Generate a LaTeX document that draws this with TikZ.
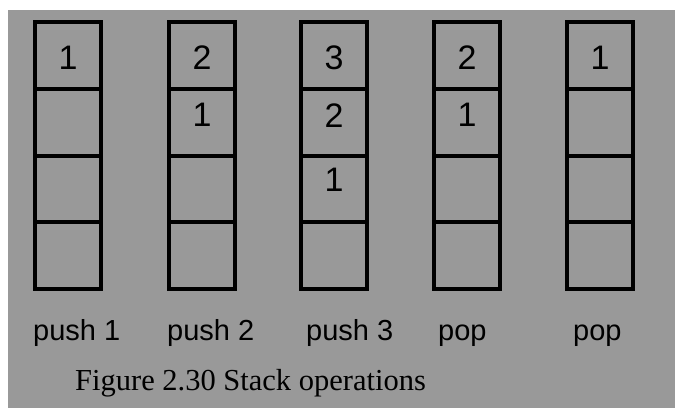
\documentclass[tikz,border=0pt]{standalone}
\usepackage{fontspec}
\setmainfont{Liberation Serif}
\newfontfamily\labelfont{Liberation Sans}
\usetikzlibrary{positioning}
\definecolor{panelgray}{RGB}{153,153,153}
\tikzset{
    % one slot of a stack
    cell/.style={
           rectangle,
           draw=black, line width=4pt,
           minimum width=66pt,
           minimum height=66.75pt,
           inner sep=0pt, outer sep=0pt},
    % value kept in a slot
    num/.style={
           font=\labelfont\fontsize{34}{34}\selectfont,
           inner sep=0pt},
    % name of the operation under a stack
    oper/.style={
           font=\labelfont\fontsize{29}{29}\selectfont,
           inner sep=0pt,
           anchor=base west}
}

\begin{document}
\begin{tikzpicture}[x=1pt, y=-1pt, node distance=0pt]
	%
	% fond
	%
	\fill[white] (0,0) rectangle (675,408);
	\fill[panelgray] (8,10) rectangle (675,408);
	\useasboundingbox (0,0) rectangle (675,408);
	%
	% push 1
	%
	\node[cell] (a1) at (68,55.4) {};
	\node[cell, below = of a1] (a2) {};
	\node[cell, below = of a2] (a3) {};
	\node[cell, below = of a3] (a4) {};
	\node[num] (na1) at ([yshift=-2pt]a1.center) {1};
	%
	% push 2
	%
	\node[cell] (b1) at (202,55.4) {};
	\node[cell, below = of b1] (b2) {};
	\node[cell, below = of b2] (b3) {};
	\node[cell, below = of b3] (b4) {};
	\node[num] (nb1) at ([yshift=-2pt]b1.center) {2};
	\node[num] (nb2) at ([yshift=7pt]b2.center) {1};
	%
	% push 3
	%
	\node[cell] (c1) at (334,55.4) {};
	\node[cell, below = of c1] (c2) {};
	\node[cell, below = of c2] (c3) {};
	\node[cell, below = of c3] (c4) {};
	\node[num] (nc1) at ([yshift=-2pt]c1.center) {3};
	\node[num] (nc2) at ([yshift=7pt]c2.center) {2};
	\node[num] (nc3) at ([yshift=9pt]c3.center) {1};
	%
	% pop
	%
	\node[cell] (d1) at (467,55.4) {};
	\node[cell, below = of d1] (d2) {};
	\node[cell, below = of d2] (d3) {};
	\node[cell, below = of d3] (d4) {};
	\node[num] (nd1) at ([yshift=-2pt]d1.center) {2};
	\node[num] (nd2) at ([yshift=7pt]d2.center) {1};
	%
	% pop
	%
	\node[cell] (e1) at (600,55.4) {};
	\node[cell, below = of e1] (e2) {};
	\node[cell, below = of e2] (e3) {};
	\node[cell, below = of e3] (e4) {};
	\node[num] (ne1) at ([yshift=-2pt]e1.center) {1};
	%
	% operations
	%
	\node[oper] (opa) at (33,340) {push 1};
	\node[oper] (opb) at (167,340) {push 2};
	\node[oper] (opc) at (306,340) {push 3};
	\node[oper] (opd) at (438,340) {pop};
	\node[oper] (ope) at (573,340) {pop};
	%
	% legende
	%
	\node[font=\fontsize{30.5}{30.5}\selectfont, inner sep=0pt, anchor=base west]
		(caption) at (75,390) {Figure 2.30 Stack operations};
\end{tikzpicture}
\end{document}
